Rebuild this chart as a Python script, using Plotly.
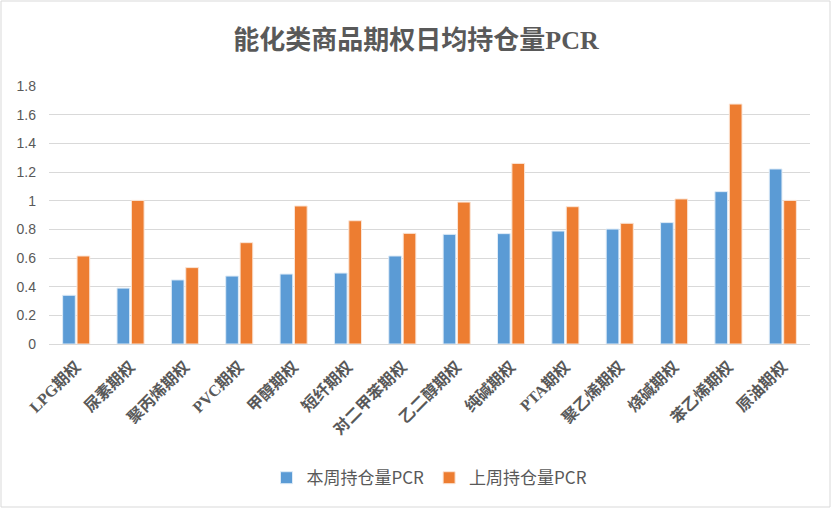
import plotly.graph_objects as go

categories = ['LPG期权', '尿素期权', '聚丙烯期权', 'PVC期权', '甲醇期权', '短纤期权', '对二甲苯期权',
              '乙二醇期权', '纯碱期权', 'PTA期权', '聚乙烯期权', '烧碱期权', '苯乙烯期权', '原油期权']
this_week = [0.34, 0.39, 0.447, 0.474, 0.488, 0.495, 0.614, 0.765, 0.77, 0.788, 0.802, 0.847, 1.063, 1.221]
last_week = [0.614, 1.002, 0.533, 0.707, 0.963, 0.86, 0.772, 0.99, 1.26, 0.958, 0.842, 1.012, 1.674, 1.002]
y_ticks = [0, 0.2, 0.4, 0.6, 0.8, 1, 1.2, 1.4, 1.6, 1.8]

fig = go.Figure()
fig.add_trace(go.Bar(x=categories, y=this_week, name='本周持仓量PCR',
                     marker=dict(color='#5B9BD5', line=dict(color='#DEEBF7', width=1))))
fig.add_trace(go.Bar(x=categories, y=last_week, name='上周持仓量PCR',
                     marker=dict(color='#ED7D31', line=dict(color='#FBE5D6', width=1))))

fig.update_layout(
    width=832, height=510,
    paper_bgcolor='white', plot_bgcolor='white',
    margin=dict(l=49, r=22, t=86, b=166),
    barmode='group', bargap=0.47, bargroupgap=0.12,
    title=dict(text='<b>能化类商品期权日均持仓量PCR</b>', x=0.5, xanchor='center', y=0.922, yanchor='middle',
               font=dict(family='Liberation Serif, Noto Sans CJK SC', size=26, color='#595959')),
    xaxis=dict(tickangle=-45, showgrid=False, showline=True, linecolor='#D9D9D9', linewidth=1,
               ticks='', automargin=False, ticklabelstandoff=6,
               tickfont=dict(family='Liberation Serif, Noto Sans CJK SC', size=16, color='#595959',
                             weight='bold')),
    yaxis=dict(range=[0, 1.8], tickvals=y_ticks, ticktext=[f'{v:g}' for v in y_ticks],
               showgrid=True, gridcolor='#D9D9D9', gridwidth=1, zeroline=False, showline=False,
               ticks='', ticklabelstandoff=12, automargin=False,
               tickfont=dict(family='Liberation Sans, Noto Sans CJK SC', size=14, color='#595959')),
    legend=dict(orientation='h', x=0.5, xanchor='center', y=-0.52, yanchor='middle',
                font=dict(family='Noto Sans CJK SC', size=17, color='#595959'),
                itemwidth=30, traceorder='normal'),
    showlegend=True,
)
fig.add_shape(type='rect', xref='paper', yref='paper', x0=-48/761, x1=1+20/761, y0=-163/258, y1=1+85/258,
              line=dict(color='#D9D9D9', width=1), fillcolor='rgba(0,0,0,0)', layer='below')

fig.write_html('out.html', config={'displayModeBar': False},
               post_script="document.body.style.margin='0';")
